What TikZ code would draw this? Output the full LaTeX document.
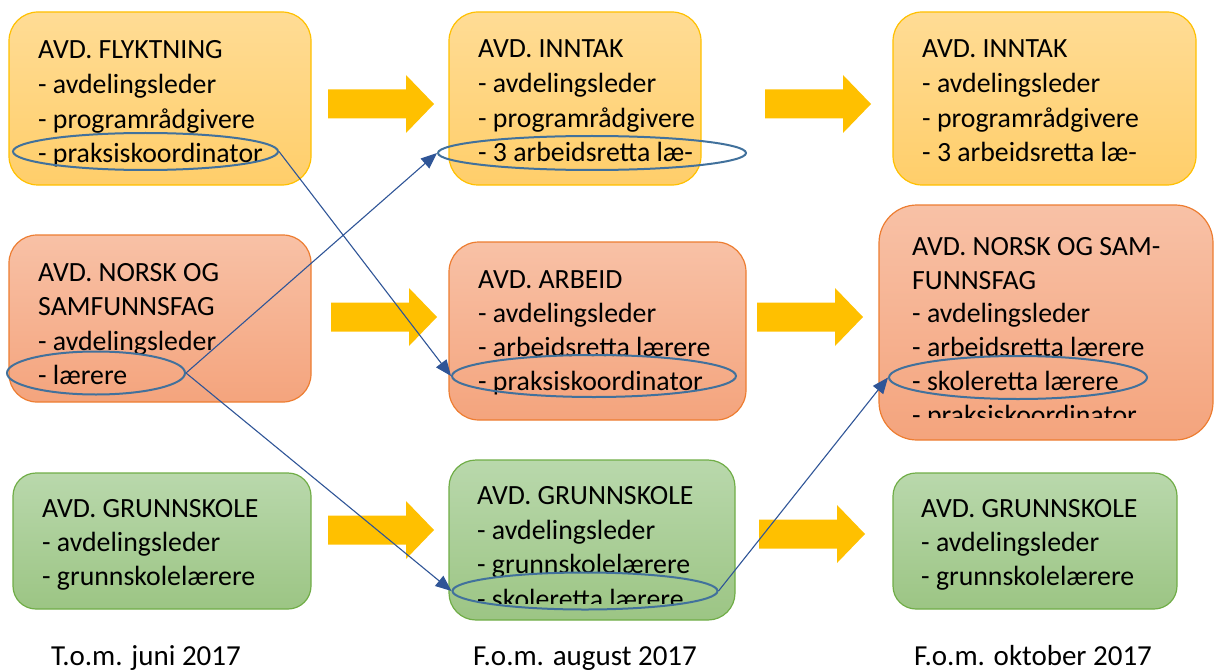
\documentclass[tikz,border=0pt]{standalone}
\usepackage{fontspec}
\setmainfont{Carlito}
\usetikzlibrary{shapes.geometric,arrows.meta}

\definecolor{ytop}{HTML}{FFDC95}
\definecolor{ybot}{HTML}{FFCE6A}
\definecolor{yline}{HTML}{FFC000}
\definecolor{otop}{HTML}{F8C1A6}
\definecolor{obot}{HTML}{F4A47D}
\definecolor{oline}{HTML}{ED7D31}
\definecolor{gtop}{HTML}{B9D8AC}
\definecolor{gbot}{HTML}{9CC584}
\definecolor{gline}{HTML}{70AD47}
\definecolor{ringblue}{HTML}{41719C}
\definecolor{linkblue}{HTML}{2F5597}
\definecolor{flow}{HTML}{FFC000}

\tikzset{
  dept/.style={draw, line width=1.2pt, inner sep=0pt},
  ydept/.style={dept, draw=yline, top color=ytop, bottom color=ybot},
  odept/.style={dept, draw=oline, top color=otop, bottom color=obot},
  gdept/.style={dept, draw=gline, top color=gtop, bottom color=gbot},
  ln/.style={anchor=base west, inner sep=0pt, yshift=-1.5pt, font=\fontsize{27.8}{33}\selectfont},
  period/.style={anchor=base, inner sep=0pt, font=\fontsize{29}{34}\selectfont},
  ring/.style={ellipse, draw=ringblue, line width=2pt, inner sep=0pt},
  link/.style={draw=linkblue, line width=1.1pt, -{Triangle[length=16pt,width=13pt]}},
  flowarrow/.pic={\fill[flow] (0,-14.5) -- (78,-14.5) -- (78,-29) -- (106,0)
                   -- (78,29) -- (78,14.5) -- (0,14.5) -- cycle;}
}

\begin{document}
\begin{tikzpicture}[x=1pt,y=-1pt]
\useasboundingbox (0,0) rectangle (1214,671);

% department boxes
\node[ydept, rounded corners=29pt, minimum width=302pt, minimum height=173pt] (flykt) at (160,98.5) {};
\node[ydept, rounded corners=29pt, minimum width=252pt, minimum height=173pt] (inntakA) at (575,98.5) {};
\node[ydept, rounded corners=29pt, minimum width=303pt, minimum height=173pt] (inntakB) at (1044.5,98.5) {};
\node[odept, rounded corners=28pt, minimum width=302pt, minimum height=167pt] (norskA) at (160,318.5) {};
\node[odept, rounded corners=30pt, minimum width=297pt, minimum height=178pt] (arbeid) at (597.5,331) {};
\node[odept, rounded corners=38pt, minimum width=334pt, minimum height=235pt] (norskB) at (1046,322.5) {};
\node[gdept, rounded corners=23pt, minimum width=298pt, minimum height=136pt] (grunnA) at (162,541) {};
\node[gdept, rounded corners=27pt, minimum width=286pt, minimum height=160pt] (grunnB) at (592,540) {};
\node[gdept, rounded corners=23pt, minimum width=284pt, minimum height=136pt] (grunnC) at (1035,541) {};

% box texts
\foreach \t [count=\i] in {AVD. FLYKTNING,- avdelingsleder,- programrådgivere,- praksiskoordinator}
  \node[ln] (flykt-\i) at (38,57+34.8*\i-34.8) {\t};
\foreach \t [count=\i] in {AVD. INNTAK,- avdelingsleder,- programrådgivere,- 3 arbeidsretta læ-}
  \node[ln] (inntakA-\i) at (478,56+34.8*\i-34.8) {\t};
\foreach \t [count=\i] in {AVD. INNTAK,- avdelingsleder,- programrådgivere,- 3 arbeidsretta læ-}
  \node[ln] (inntakB-\i) at (922,56+34.8*\i-34.8) {\t};
\foreach \t [count=\i] in {AVD. NORSK OG,SAMFUNNSFAG,- avdelingsleder,- lærere}
  \node[ln] (norskA-\i) at (38,280+34.3*\i-34.3) {\t};
\foreach \t [count=\i] in {AVD. ARBEID,- avdelingsleder,- arbeidsretta lærere,- praksiskoordinator}
  \node[ln] (arbeid-\i) at (478,287+34*\i-34) {\t};
\foreach \t [count=\i] in {AVD. NORSK OG SAM-,FUNNSFAG,- avdelingsleder,- arbeidsretta lærere,- skoleretta lærere}
  \node[ln] (norskB-\i) at (912,254+33.7*\i-33.7) {\t};
\begin{scope}
  \clip (880,205) rectangle (1212,417);
  \node[ln] (norskB-6) at (912,422.5) {- praksiskoordinator};
\end{scope}
\foreach \t [count=\i] in {AVD. GRUNNSKOLE,- avdelingsleder,- grunnskolelærere}
  \node[ln] (grunnA-\i) at (42,516+34*\i-34) {\t};
\foreach \t [count=\i] in {AVD. GRUNNSKOLE,- avdelingsleder,- grunnskolelærere}
  \node[ln] (grunnB-\i) at (477,503+34.5*\i-34.5) {\t};
\begin{scope}
  \clip (450,460) rectangle (734,603);
  \node[ln] (grunnB-4) at (477,606.5) {- skoleretta lærere};
\end{scope}
\foreach \t [count=\i] in {AVD. GRUNNSKOLE,- avdelingsleder,- grunnskolelærere}
  \node[ln] (grunnC-\i) at (921,516+34*\i-34) {\t};

% transition arrows
\pic at (328,104) {flowarrow};
\pic at (765,104) {flowarrow};
\pic at (331,317) {flowarrow};
\pic at (757,317) {flowarrow};
\pic at (328,530) {flowarrow};
\pic at (759,534) {flowarrow};

% highlighted staff groups
\node[ring, minimum width=265pt, minimum height=37pt] (e1) at (145.5,151.5) {};
\node[ring, minimum width=308pt, minimum height=34pt] (e2) at (592,153) {};
\node[ring, minimum width=178pt, minimum height=43pt] (e3) at (96,373) {};
\node[ring, minimum width=284pt, minimum height=42pt] (e4) at (594,376) {};
\node[ring, minimum width=258pt, minimum height=43pt] (e5) at (1018,377.5) {};
\node[ring, minimum width=265pt, minimum height=37pt] (e6) at (585,591) {};

% staff moves
\draw[link] (e1.east) -- (e4.west);
\draw[link] (e3.east) -- (e2.west);
\draw[link] (e3.east) -- (e6.west);
\draw[link] (e6.east) -- (e5.west);

% periods
\node[period] (p1) at (146,665) {T.o.m. juni 2017};
\node[period] (p2) at (585,665) {F.o.m. august 2017};
\node[period] (p3) at (1033,665) {F.o.m. oktober 2017};
\end{tikzpicture}
\end{document}
